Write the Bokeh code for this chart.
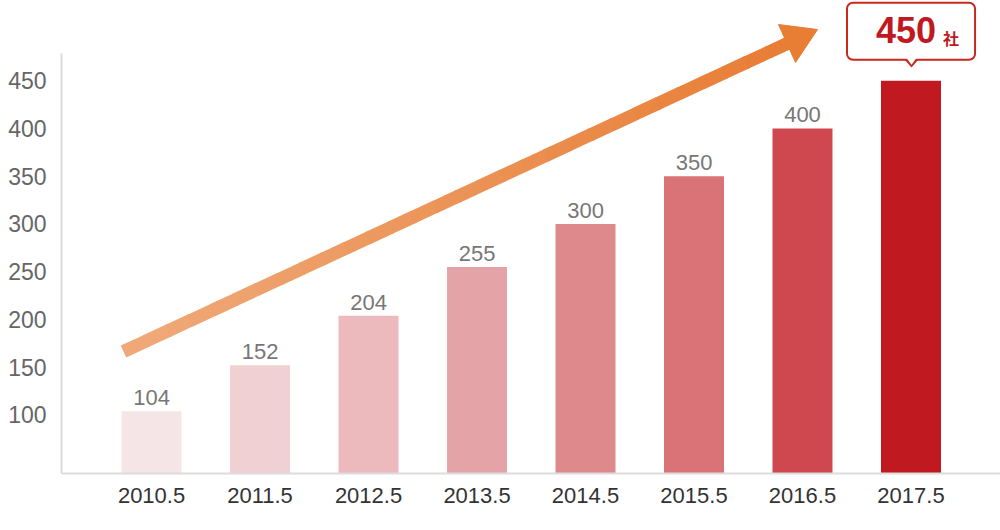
import numpy as np
from bokeh.plotting import figure
from bokeh.models import Range1d, FixedTicker, Label, LabelSet, ColumnDataSource
from bokeh.core.properties import value
from bokeh.embed import file_html
from bokeh.resources import INLINE

# ---- data ----
categories = ["2010.5", "2011.5", "2012.5", "2013.5", "2014.5", "2015.5", "2016.5", "2017.5"]
counts = [104, 152, 204, 255, 300, 350, 400, 450]
bar_colors = ["#f6e5e6", "#f1d0d3", "#ecb9bd", "#e4a4a7", "#de8a8d", "#d97378", "#cf4850", "#c01920"]
y_ticks = [100, 150, 200, 250, 300, 350, 400, 450]
highlight_value = "450"
highlight_unit = "社"

FONT = "Liberation Sans"

# ---- geometry (page pixels == figure pixels) ----
W, H = 1000, 530
LEFT, BOTTOM = 61, 57
X0, X1 = -0.83, 7.825
Y0, Y1 = 38.74, 534.03
FL, FR, FT, FB = LEFT, W, 0, H - BOTTOM
xs_per_px = (X1 - X0) / (FR - FL)
ys_per_px = (Y1 - Y0) / (FB - FT)


def px2x(px):
    return X0 + (px - FL) * xs_per_px


def px2y(py):
    return Y0 + (FB - py) * ys_per_px


p = figure(width=W, height=H, x_range=Range1d(X0, X1), y_range=Range1d(Y0, Y1),
           output_backend="svg", toolbar_location=None,
           min_border_left=LEFT, min_border_right=0, min_border_top=0,
           min_border_bottom=BOTTOM)
p.outline_line_color = None
p.xgrid.visible = False
p.ygrid.visible = False
p.background_fill_color = "white"

xs = list(range(len(categories)))

# bars
p.vbar(x=xs, top=counts, bottom=Y0, width=0.553, fill_color=bar_colors, line_color=None)

# value labels (except highlighted last one)
src = ColumnDataSource(dict(x=xs[:-1], y=counts[:-1], t=[str(c) for c in counts[:-1]]))
p.add_layout(LabelSet(x="x", y="y", text="t", source=src, y_offset=6,
                      text_align="center", text_baseline="alphabetic",
                      text_font=value(FONT), text_font_size=value("22px"),
                      text_color=value("#777777")))

# axes
p.xaxis.ticker = FixedTicker(ticks=xs)
p.xaxis.major_label_overrides = {i: c for i, c in enumerate(categories)}
p.yaxis.ticker = FixedTicker(ticks=y_ticks)
for ax in (p.xaxis, p.yaxis):
    ax.axis_line_color = "#dcdcdc"
    ax.axis_line_width = 2
    ax.major_tick_line_color = None
    ax.minor_tick_line_color = None
    ax.major_label_text_font = FONT
    ax.major_label_text_font_size = "22px"
p.yaxis.major_label_text_font_size = "23px"
p.xaxis.major_label_text_color = "#333333"
p.yaxis.major_label_text_color = "#666666"
p.xaxis.major_label_standoff = 8
p.yaxis.major_label_standoff = 9
p.yaxis.bounds = (Y0, px2y(53))

# gradient arrow
tail = (123, 351)
shaft_end = (790, 41.5)
N = 30
c0 = np.array([239, 170, 122])
c1 = np.array([232, 125, 52])
t = np.linspace(0, 1, N + 1)
ov = 1.5 / np.hypot(shaft_end[0] - tail[0], shaft_end[1] - tail[1])
x0s, y0s, x1s, y1s, cols = [], [], [], [], []
for i in range(N):
    ta, tb = t[i], min(t[i + 1] + ov, 1.0)
    x0s.append(px2x(tail[0] + (shaft_end[0] - tail[0]) * ta))
    y0s.append(px2y(tail[1] + (shaft_end[1] - tail[1]) * ta))
    x1s.append(px2x(tail[0] + (shaft_end[0] - tail[0]) * tb))
    y1s.append(px2y(tail[1] + (shaft_end[1] - tail[1]) * tb))
    c = c0 + (c1 - c0) * (i + 0.5) / N
    cols.append("#%02x%02x%02x" % tuple(int(round(v)) for v in c))
p.segment(x0=x0s, y0=y0s, x1=x1s, y1=y1s, line_color=cols,
          line_width=13, line_cap="butt")
head = [(778, 24), (817, 29), (795, 62)]
p.patch(x=[px2x(a) for a, b in head], y=[px2y(b) for a, b in head],
        fill_color="#e87d34", line_color="#e87d34", line_width=1)

# callout bubble for the last bar
red = "#c8281e"
bx = xs[-1]
box = Label(x=bx, y=counts[-1], x_units="data", y_units="data",
            x_offset=-64, y_offset=21, text=highlight_value,
            text_align="left", text_baseline="bottom",
            text_font=FONT, text_font_size="36px", text_font_style="bold",
            text_color="#c0191f",
            background_fill_color="white", border_line_color=red,
            border_line_width=2, border_radius=6,
            padding=dict(left=29, right=39, top=14, bottom=17))
p.add_layout(box)
unit = Label(x=bx, y=counts[-1], x_units="data", y_units="data",
             x_offset=32, y_offset=43, text=highlight_unit,
             text_align="left", text_baseline="alphabetic",
             text_font="Noto Sans CJK JP", text_font_size="16px",
             text_font_style="bold", text_color="#c0191f")
p.add_layout(unit)
tip_px = 911
outer = [(tip_px - 7, 59), (tip_px + 7, 59), (tip_px, 67)]
inner = [(tip_px - 5, 57.5), (tip_px + 5, 57.5), (tip_px, 64.2)]
p.patch(x=[px2x(a) for a, b in outer], y=[px2y(b) for a, b in outer],
        fill_color=red, line_color=None, level="overlay")
p.patch(x=[px2x(a) for a, b in inner], y=[px2y(b) for a, b in inner],
        fill_color="white", line_color=None, level="overlay")

open("out.html", "w").write(file_html(p, INLINE))
